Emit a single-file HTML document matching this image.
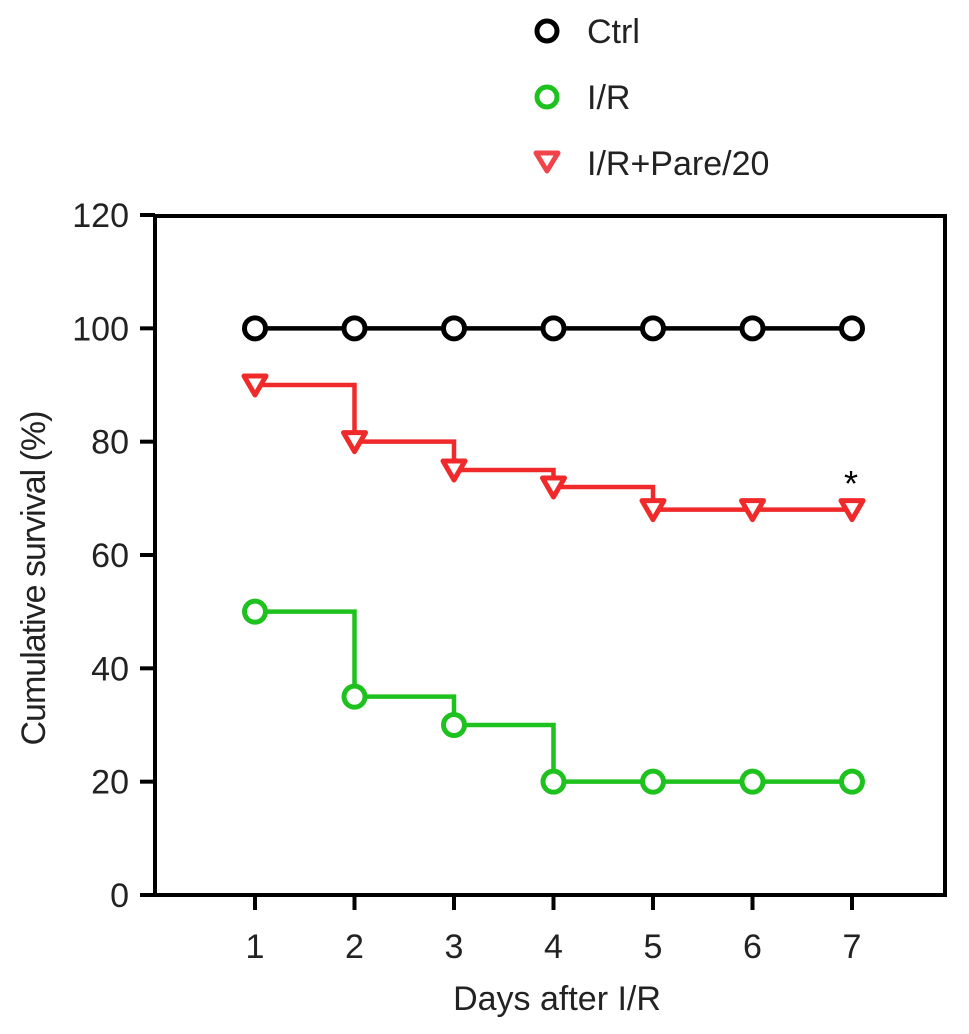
<!DOCTYPE html>
<html><head><meta charset="utf-8"><style>
body{margin:0;background:#fff;}
svg text{font-family:"Liberation Sans",Arial,sans-serif;}
</style></head><body>
<svg id="chart" width="969" height="1029" xmlns="http://www.w3.org/2000/svg">
<g id="legend">
<g><circle cx="547" cy="31" r="10" fill="none" stroke="#000" stroke-width="5"/><text x="587" y="43" font-size="34" fill="#222">Ctrl</text></g>
<g><circle cx="547" cy="97" r="10" fill="none" stroke="#1ec21e" stroke-width="5"/><text x="587" y="109" font-size="34" fill="#222">I/R</text></g>
<g><polygon points="536,153 558,153 547,171" fill="none" stroke="#f0444a" stroke-width="5" stroke-linejoin="round"/><text x="587" y="175" font-size="34" fill="#222">I/R+Pare/20</text></g>
</g>
<g id="axes"></g>
<g id="series"></g>
<text x="851" y="496" font-size="36" text-anchor="middle">*</text>
<text x="557" y="1010" font-size="34" text-anchor="middle" fill="#222">Days after I/R</text>
<text transform="translate(45,578) rotate(-90)" font-size="34" text-anchor="middle" fill="#222" textLength="335">Cumulative survival (%)</text>
</svg>
<script>
const days=[1,2,3,4,5,6,7];
const ctrl=[100,100,100,100,100,100,100];
const ir=[50,35,30,20,20,20,20];
const irPare=[90,80,75,72,68,68,68];
const yTicks=[0,20,40,60,80,100,120];
const NS='http://www.w3.org/2000/svg';
const xS=d=>255+(d-1)*99.5;
const yS=v=>895-v*(680/120);
function mk(t,a,p){const e=document.createElementNS(NS,t);for(const k in a)e.setAttribute(k,a[k]);p.appendChild(e);return e;}
const ax=document.getElementById('axes');
const frame=mk('rect',{x:155,y:216,width:790,height:679,fill:'none',stroke:'#000','stroke-width':4},ax);


yTicks.forEach(v=>{
 const l=mk('line',{x1:140,x2:155,y1:yS(v),y2:yS(v),stroke:'#000','stroke-width':4},ax);
 
 
 const t=mk('text',{x:129,y:yS(v)+12,'font-size':34,'text-anchor':'end',fill:'#222'},ax);t.textContent=v;
 
 
});
days.forEach(d=>{
 const l=mk('line',{x1:xS(d),x2:xS(d),y1:895,y2:910,stroke:'#000','stroke-width':4},ax);
 
 
 const t=mk('text',{x:xS(d),y:958,'font-size':34,'text-anchor':'middle',fill:'#222'},ax);t.textContent=d;
 
 
});
const sg=document.getElementById('series');
function series(vals,color,shape,name){
 const g=mk('g',{},sg);
 
 
 let d='M'+xS(days[0])+','+yS(vals[0]);
 for(let i=1;i<days.length;i++){d+=' H'+xS(days[i])+' V'+yS(vals[i]);}
 const p=mk('path',{d:d,fill:'none',stroke:color,'stroke-width':4.5},g);
 
 
 days.forEach((day,i)=>{
  const x=xS(day),y=yS(vals[i]);let m;
  if(shape==='c')m=mk('circle',{cx:x,cy:y,r:10.5,fill:'#fff',stroke:color,'stroke-width':5},g);
  else m=mk('polygon',{points:`${x-11},${y-9} ${x+11},${y-9} ${x},${y+10}`,fill:'#fff',stroke:color,'stroke-width':5,'stroke-linejoin':'round'},g);
  
  
 });
}
series(ir,'#1ec21e','c','ir-series');
series(irPare,'#f02a2a','t','ir-pare-series');
series(ctrl,'#000','c','ctrl-series');
</script>
</body></html>
